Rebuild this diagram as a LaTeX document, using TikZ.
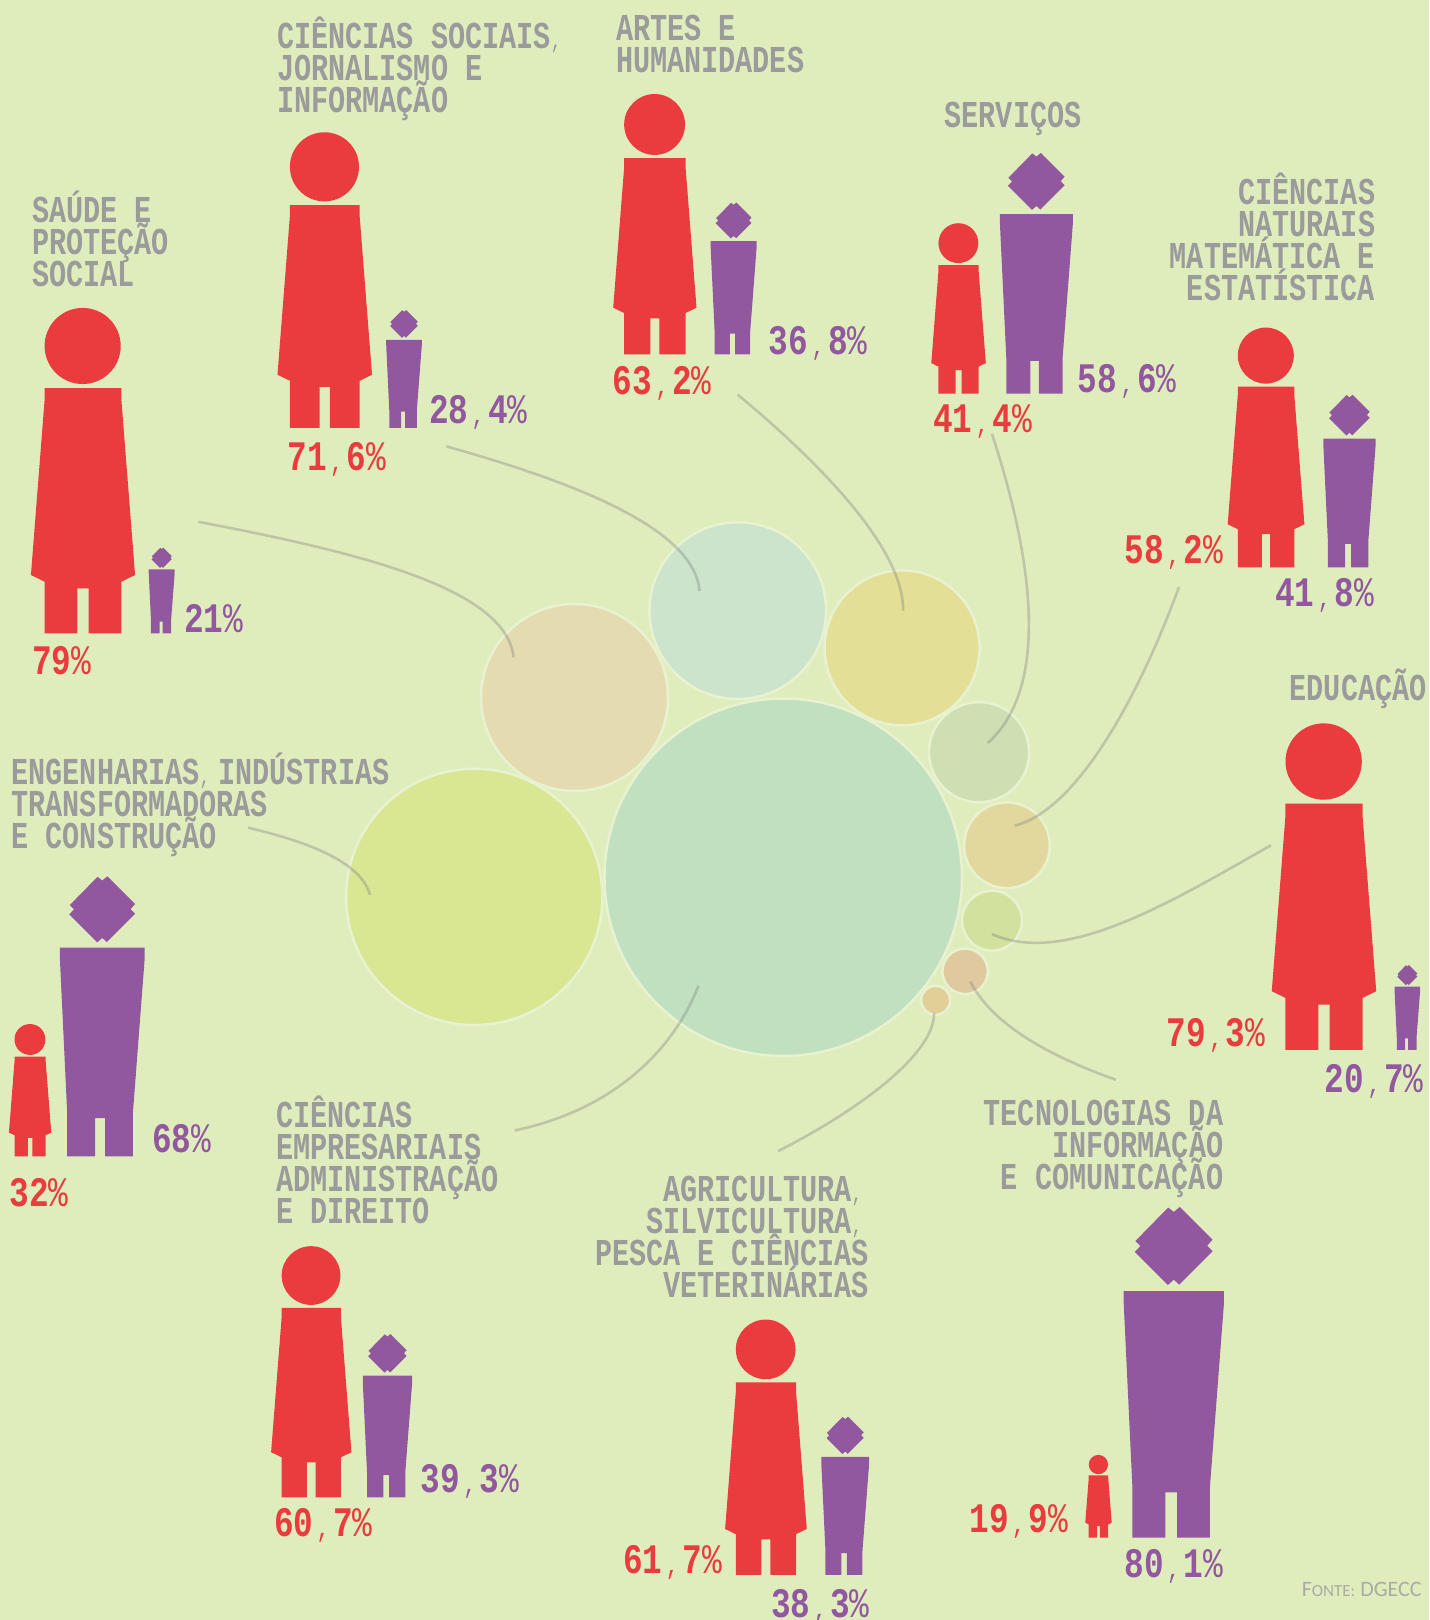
\documentclass[tikz,border=0pt]{standalone}
\usepackage{fontspec}
\setmainfont{Liberation Sans}
\newfontfamily\titlemono[FakeStretch=0.75]{Liberation Mono}
\newfontfamily\pctmono[FakeStretch=0.78]{Liberation Mono}
\newfontfamily\srcfont{Carlito}
\definecolor{bgc}{HTML}{DFEDBD}
\definecolor{redc}{HTML}{EA3C3F}
\definecolor{purc}{HTML}{92589F}
\definecolor{grayc}{HTML}{9B9B9B}
\definecolor{srcc}{HTML}{A9ABA5}
\definecolor{halo}{HTML}{E9F2D0}
\definecolor{linec}{HTML}{808080}
\definecolor{bubA}{HTML}{C1E0C0}
\definecolor{bubB}{HTML}{D9E692}
\definecolor{bubC}{HTML}{E4DBB0}
\definecolor{bubD}{HTML}{CBE4CB}
\definecolor{bubE}{HTML}{E4DF97}
\definecolor{bubF}{HTML}{CEDFB4}
\definecolor{bubG}{HTML}{E2D89E}
\definecolor{bubH}{HTML}{D2E29E}
\definecolor{bubI}{HTML}{E0C99E}
\definecolor{bubJ}{HTML}{E2CF98}
\setlength{\lineskiplimit}{-100pt}
\newcommand{\womanfig}[3]{%
  \begin{scope}[shift={(#1,#2)},scale=#3/975]
    \fill[redc] (0,-861) circle[radius=114];
    \fill[redc] (-114,-735) -- (116,-735) -- (116,-700) -- (157,-175) -- (116,-155) -- (116,0) -- (18,0) -- (18,-135) -- (-16,-135) -- (-16,0) -- (-114,0) -- (-114,-155) -- (-155,-175) -- (-114,-700) -- cycle;
  \end{scope}}
\newcommand{\manfig}[3]{%
  \begin{scope}[shift={(#1,#2)},scale=#3/990]
    \fill[purc] (-17,-988) -- (0,-975) -- (18,-990) -- (116,-892) -- (100,-874) -- (116,-857) -- (16,-757) -- (0,-772) -- (-18,-756) -- (-117,-855) -- (-100,-873) -- (-115,-888) -- cycle;
    \fill[purc] (-150,-738) -- (150,-738) -- (150,-700) -- (108,-150) -- (108,0) -- (10,0) -- (10,-135) -- (-25,-135) -- (-25,0) -- (-124,0) -- (-124,-150) -- (-150,-700) -- cycle;
  \end{scope}}
% percentages: bold digits, a tiny comma in its own column, a light percent sign
\newcommand{\pctd}[2]{{\bfseries #1}\makebox[19.8pt][c]{\raisebox{-1pt}{\mdseries\fontsize{28}{28}\selectfont,}}{\bfseries #2}\%}
\newcommand{\pcti}[1]{{\bfseries #1}\%}
\newcommand{\ttlcomma}[1]{{\mdseries\fontsize{24}{32}\selectfont\makebox[#1][l]{,}}}
\newcommand{\ttlfont}{\titlemono\bfseries\fontsize{38}{32}\selectfont\setlength{\lineskiplimit}{-100pt}}
\tikzset{
  x=1.03327pt,y=-1.03327pt,
  bub/.style={circle,inner sep=0pt,draw=halo,line width=2.5pt},
  lead/.style={draw=linec,opacity=.36,line width=2.6pt},
  ttl/.style={inner sep=0pt,text=grayc,font=\ttlfont},
  pct/.style={inner sep=0pt,font=\pctmono\fontsize{42}{42}\selectfont,anchor=base west},
  pr/.style={pct,text=redc},
  pp/.style={pct,text=purc},
}
\begin{document}
\begin{tikzpicture}
\fill[bgc] (0,0) rectangle (1383,1567.8);
\useasboundingbox (0,0) rectangle (1383,1567.8);
% bubbles
\node[bub,fill=bubA,minimum size={2*1.03327*173pt}] (c1) at (758,849) {};
\node[bub,fill=bubB,minimum size={2*1.03327*124pt}] (c2) at (459,868) {};
\node[bub,fill=bubC,minimum size={2*1.03327*90.5pt}] (c3) at (556,675) {};
\node[bub,fill=bubD,minimum size={2*1.03327*85.5pt}] (c4) at (714,591) {};
\node[bub,fill=bubE,minimum size={2*1.03327*75pt}] (c5) at (873,627) {};
\node[bub,fill=bubF,minimum size={2*1.03327*48.5pt}] (c6) at (947.5,728) {};
\node[bub,fill=bubG,minimum size={2*1.03327*41.5pt}] (c7) at (974.5,818) {};
\node[bub,fill=bubH,minimum size={2*1.03327*29pt}] (c8) at (960,891) {};
\node[bub,fill=bubI,minimum size={2*1.03327*22pt}] (c9) at (934,940) {};
\node[bub,fill=bubJ,minimum size={2*1.03327*14pt}] (c10) at (905.5,968) {};
% connector ends
\coordinate (a1) at (192,505);   \coordinate (b1) at (497,636);
\coordinate (a2) at (432,432);   \coordinate (b2) at (677,572);
\coordinate (a3) at (714,382);   \coordinate (b3) at (874,591);
\coordinate (a4) at (960,420);   \coordinate (b4) at (956,719);
\coordinate (a5) at (1141,568);  \coordinate (b5) at (982,799);
\coordinate (a6) at (1230,818);  \coordinate (b6) at (960,904);
\coordinate (a7) at (1080,1045); \coordinate (b7) at (939,950);
\coordinate (a8) at (753,1114);  \coordinate (b8) at (904,980);
\coordinate (a9) at (498,1094);  \coordinate (b9) at (676,954);
\coordinate (a10) at (240,801);  \coordinate (b10) at (358,866);
\draw[lead] (a1) .. controls (350,535) and (490,570) .. (b1);
\draw[lead] (a2) .. controls (550,465) and (672,510) .. (b2);
\draw[lead] (a3) .. controls (790,445) and (875,530) .. (b3);
\draw[lead] (a4) .. controls (993,520) and (1022,660) .. (b4);
\draw[lead] (a5) .. controls (1100,680) and (1040,785) .. (b5);
\draw[lead] (a6) .. controls (1130,875) and (1030,935) .. (b6);
\draw[lead] (a7) .. controls (1010,1020) and (960,990) .. (b7);
\draw[lead] (a8) .. controls (830,1075) and (905,1020) .. (b8);
\draw[lead] (a9) .. controls (590,1075) and (650,1020) .. (b9);
\draw[lead] (a10) .. controls (300,815) and (350,835) .. (b10);
% figures
\womanfig{80}{613}{315}     \manfig{156.5}{613}{83}
\womanfig{314}{414}{286}    \manfig{391}{414}{114}
\womanfig{633.5}{343}{252}  \manfig{710}{343}{147}
\womanfig{927.5}{381}{165}  \manfig{1003}{381}{233}
\womanfig{1225}{549}{232}   \manfig{1306}{549}{167}
\womanfig{1281}{1016}{316}  \manfig{1362}{1016}{82}
\womanfig{1063}{1488}{80}   \manfig{1136}{1488}{320}
\womanfig{741}{1524}{247}   \manfig{818}{1524}{153}
\womanfig{301}{1449}{243}   \manfig{375}{1449}{158}
\womanfig{29}{1119}{128}    \manfig{99}{1119}{271}
% percentages
\node[pr] (p1) at (31,653) {\pcti{79}};
\node[pp] (p2) at (178,612) {\pcti{21}};
\node[pr] (p3) at (278,455) {\pctd{71}{6}};
\node[pp] (p4) at (415,410) {\pctd{28}{4}};
\node[pr] (p5) at (593,382) {\pctd{63}{2}};
\node[pp] (p6) at (744,343) {\pctd{36}{8}};
\node[pr] (p7) at (903,419) {\pctd{41}{4}};
\node[pp] (p8) at (1043,380) {\pctd{58}{6}};
\node[pr] (p9) at (1088,545) {\pctd{58}{2}};
\node[pp] (p10) at (1234,587) {\pctd{41}{8}};
\node[pr] (p11) at (1129,1013) {\pctd{79}{3}};
\node[pp] (p12) at (1282,1057) {\pctd{20}{7}};
\node[pr] (p13) at (938,1483) {\pctd{19}{9}};
\node[pp] (p14) at (1088,1527) {\pctd{80}{1}};
\node[pr] (p15) at (603,1523) {\pctd{61}{7}};
\node[pp] (p16) at (746,1565) {\pctd{38}{3}};
\node[pr] (p17) at (265,1487) {\pctd{60}{7}};
\node[pp] (p18) at (407,1444) {\pctd{39}{3}};
\node[pr] (p19) at (9,1168) {\pcti{32}};
\node[pp] (p20) at (147,1115) {\pcti{68}};
% titles (anchored on the last baseline)
\node[ttl,anchor=base west,align=left] (t1) at (31,277) {SAÚDE E\\PROTEÇÃO\\SOCIAL};
\node[ttl,anchor=base west,align=left] (t2) at (268,109) {CIÊNCIAS SOCIAIS\ttlcomma{0pt}\\JORNALISMO E\\INFORMAÇÃO};
\node[ttl,anchor=base west,align=left] (t3) at (596,70) {ARTES E\\HUMANIDADES};
\node[ttl,anchor=base west,align=left] (t4) at (914,123) {SERVIÇOS};
\node[ttl,anchor=base east,align=right] (t5) at (1331,291) {CIÊNCIAS\\NATURAIS\\MATEMÁTICA E\\ESTATÍSTICA};
\node[ttl,anchor=base west,align=left] (t6) at (1248,678) {EDUCAÇÃO};
\node[ttl,anchor=base west,align=left] (t7) at (11,821) {ENGENHARIAS\ttlcomma{18.6pt}INDÚSTRIAS\\TRANSFORMADORAS\\E CONSTRUÇÃO};
\node[ttl,anchor=base west,align=left] (t8) at (267,1184) {CIÊNCIAS\\EMPRESARIAIS\\ADMINISTRAÇÃO\\E DIREITO};
\node[ttl,anchor=base east,align=right] (t9) at (841,1256) {AGRICULTURA\ttlcomma{17.1pt}\\SILVICULTURA\ttlcomma{17.1pt}\\PESCA E CIÊNCIAS\\VETERINÁRIAS};
\node[ttl,anchor=base east,align=right] (t10) at (1184,1151) {TECNOLOGIAS DA\\INFORMAÇÃO\\E COMUNICAÇÃO};
% source
\node[inner sep=0pt,anchor=base east,text=srcc,font=\srcfont\fontsize{22}{22}\selectfont] (src) at (1376,1545) {F{\fontsize{17}{22}\selectfont ONTE:} DGECC};
\end{tikzpicture}
\end{document}
